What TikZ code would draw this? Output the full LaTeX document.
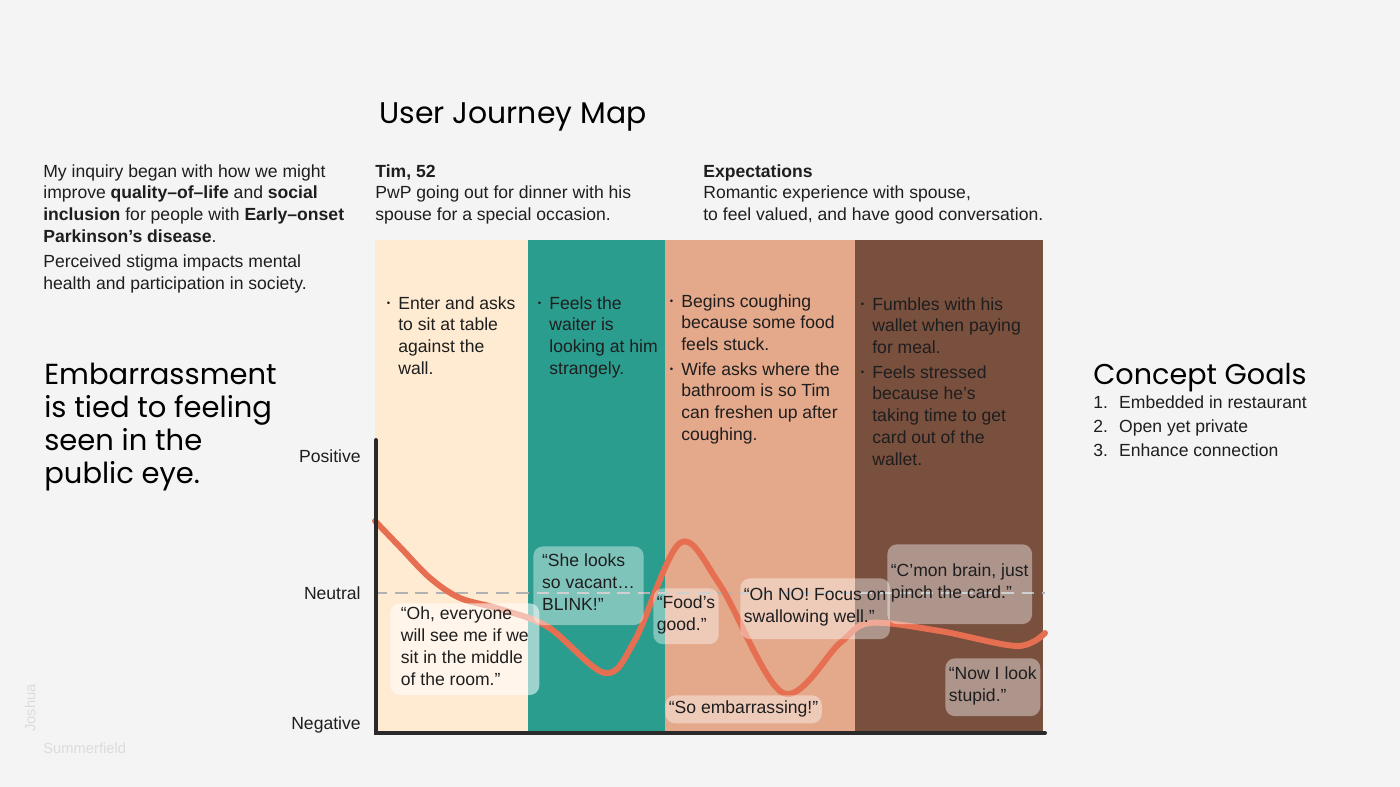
\documentclass[tikz,border=0pt]{standalone}
\usepackage{fontspec}
\setmainfont{Liberation Sans}
\newfontfamily\headfont{Poppins}
\definecolor{bgcol}{HTML}{F4F4F4}
\definecolor{inkcol}{HTML}{1E1E1E}
\definecolor{creamcol}{HTML}{FFEBD2}
\definecolor{tealcol}{HTML}{2A9D8F}
\definecolor{salmoncol}{HTML}{E4A88B}
\definecolor{browncol}{HTML}{794F3E}
\definecolor{curvecol}{HTML}{E76F51}
\definecolor{axiscol}{HTML}{2A2A2A}
\definecolor{markcol}{HTML}{DCDCDC}
\newcommand\bul{\llap{\raisebox{.25ex}{\scalebox{.55}{•}}\hspace{4.6pt}}}
\newcommand\num[1]{\makebox[14.7pt][l]{#1}}

\begin{document}
\begin{tikzpicture}[x=0.02cm, y=-0.02cm,
    every node/.style={font=\fontsize{10}{12.5}\selectfont, text=inkcol, inner sep=0pt},
    txt/.style={anchor=north west, align=left, yshift=-1.1pt, execute at begin node=\strut},
    head/.style={font=\headfont\fontsize{16.5}{18.7}\selectfont, text=black},
    ylab/.style={anchor=base east},
    bubble/.style={anchor=north west, align=left, fill=white, fill opacity=.4, text opacity=1,
        rounded corners=5.5pt, inner xsep=2pt, execute at begin node=\strut},
    wmark/.style={font=\fontsize{8.4}{10}\selectfont, text=markcol}]
    \fill[bgcol] (0,0) rectangle (1400,787);
    % stage columns
    \fill[creamcol] (375,240) rectangle (528,733);
    \fill[tealcol] (528,240) rectangle (665,733);
    \fill[salmoncol] (665,240) rectangle (855,733);
    \fill[browncol] (855,240) rectangle (1043,733);

    \node[head, font=\headfont\fontsize{17}{20}\selectfont, anchor=base west] (title) at (379,124) {User Journey Map};
    \node[txt] (intro) at (43,162) {My inquiry began with how we might\\improve \textbf{quality–of–life} and \textbf{social}\\\textbf{inclusion} for people with \textbf{Early–onset}\\\textbf{Parkinson’s disease}.\\[1.7pt]Perceived stigma impacts mental\\health and participation in society.};
    \node[txt] (persona) at (375,162) {\textbf{Tim, 52}\\PwP going out for dinner with his\\spouse for a special occasion.};
    \node[txt] (expect) at (703,162) {\textbf{Expectations}\\Romantic experience with spouse,\\to feel valued, and have good conversation.};
    \node[head, txt] (insight) at (44,361) {Embarrassment\\is tied to feeling\\seen in the\\public eye.};

    % stage notes
    \node[txt] (enter) at (398,294) {\bul Enter and asks\\to sit at table\\against the\\wall.};
    \node[txt] (waiter) at (549,294) {\bul Feels the\\waiter is\\looking at him\\strangely.};
    \node[txt] (cough) at (681,292) {\bul Begins coughing\\because some food\\feels stuck.};
    \node[txt] (wife) at (681,360) {\bul Wife asks where the\\bathroom is so Tim\\can freshen up after\\coughing.};
    \node[txt] (fumble) at (872,295) {\bul Fumbles with his\\wallet when paying\\for meal.};
    \node[txt] (stress) at (872,363) {\bul Feels stressed\\because he’s\\taking time to get\\card out of the\\wallet.};

    % emotion axis
    \node[ylab] (pos) at (361,462) {Positive};
    \node[ylab] (neu) at (361,599) {Neutral};
    \node[ylab] (neg) at (361,729) {Negative};
    \coordinate (top) at (376,440);
    \coordinate (orig) at (376,733);
    \coordinate (xend) at (1045,733);
    \draw[line width=1.4pt, black!30, dash pattern=on 7pt off 4.5pt] (375,593) -- (1045,593); % neutral
    \draw[curvecol, line width=3.4pt, line cap=round] plot[smooth, tension=0.55] coordinates {
        (375,521) (400,547) (430,578) (460,598) (500,609) (548,627) (605,673) (635,640)
        (680,543) (720,585) (783,693) (840,643) (870,623) (940,631) (1017,646) (1045,633)};

    % thoughts
    \node[bubble, fill opacity=.55, inner xsep=6pt, minimum height=52.2pt] (q1) at (390,603) {“Oh, everyone\\will see me if we\\sit in the middle\\of the room.”};
    \node[bubble, inner xsep=5pt, minimum height=44.8pt] (q2) at (533,546) {“She looks\\so vacant…\\BLINK!”};
    \node[bubble, minimum height=31.8pt] (q3) at (653,588) {“Food’s\\good.”};
    \node[bubble, minimum height=15.9pt] (q4) at (665,695) {“So embarrassing!”};
    \node[bubble, minimum height=34.6pt] (q5) at (740,578) {“Oh NO! Focus on\\swallowing well.”};
    \node[bubble, minimum height=45.4pt] (q6) at (887,544) {“C’mon brain, just\\pinch the card.”};
    \node[bubble, minimum height=32.9pt] (q7) at (945,658) {“Now I look\\stupid.”};

    \draw[axiscol, line width=2.3pt, line cap=round] (top) -- (orig) -- (xend);

    \node[head, font=\headfont\fontsize{16.3}{18.7}\selectfont, anchor=base west] (goals) at (1093,384) {Concept Goals};
    \node[txt, font=\fontsize{10}{13.9}\selectfont] (goallist) at (1093,393) {\num{1.}Embedded in restaurant\\\num{2.}Open yet private\\\num{3.}Enhance connection};

    \node[wmark, rotate=90] (first) at (30,708) {Joshua};
    \node[wmark, anchor=west] (last) at (43,748) {Summerfield};
\end{tikzpicture}
\end{document}
